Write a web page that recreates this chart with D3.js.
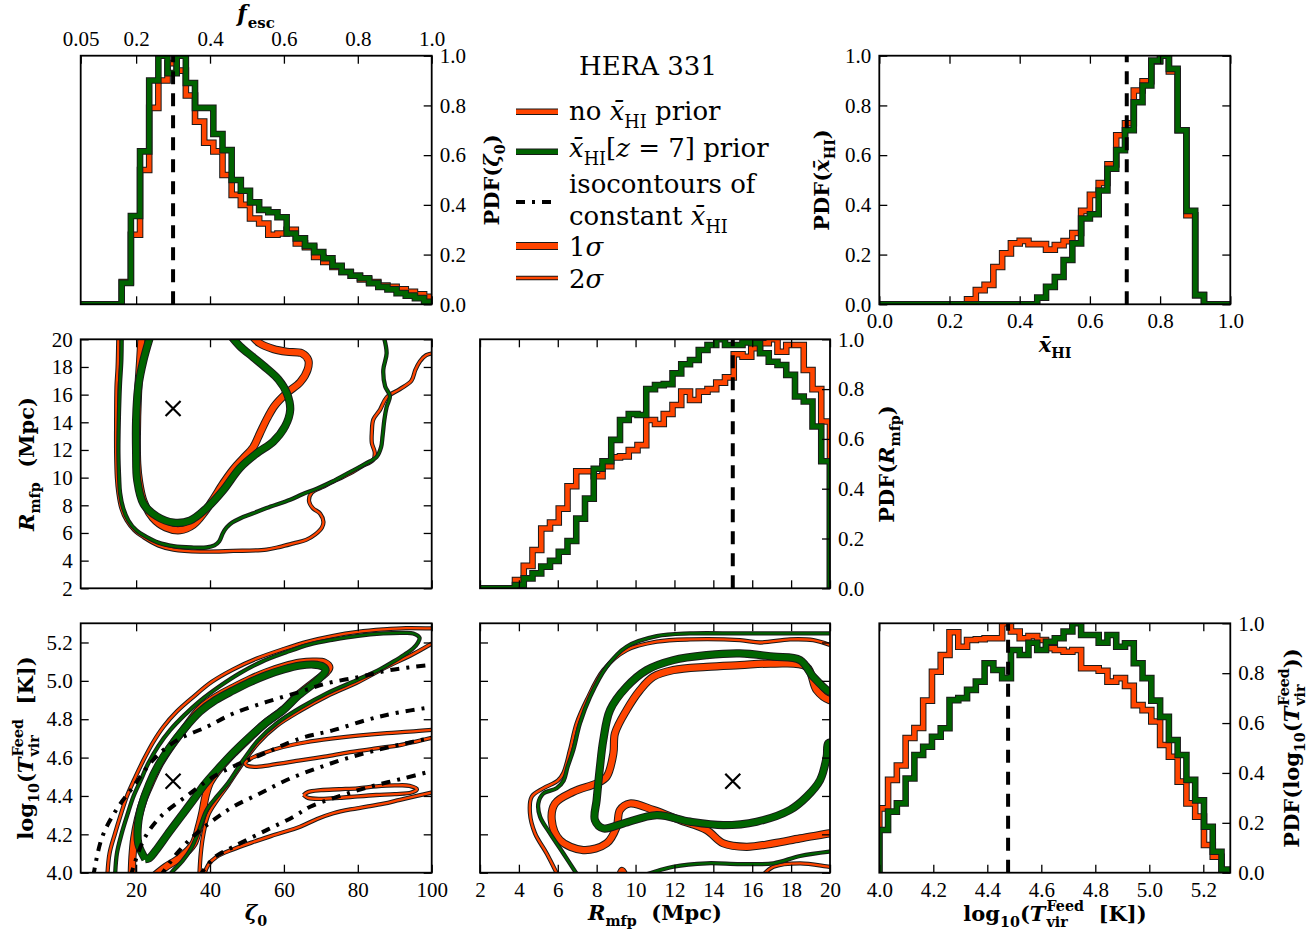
<!DOCTYPE html>
<html>
<head>
<meta charset="utf-8">
<script src="https://cdn.jsdelivr.net/npm/d3@7"></script>
<style>
body { margin: 0; background: #fff; }
</style>
</head>
<body>
<div class="fig"></div>
<script>
// ---------- data ----------
// 1D marginal PDFs, step histograms (bin start, bin width, heights)
var zetaBinStart = 16.1, zetaBinWidth = 2.48;
var zetaPdfNoPrior = [0.09, 0.28, 0.54, 0.79, 0.90, 0.97, 0.94, 0.84, 0.735, 0.65, 0.615, 0.52, 0.44, 0.40, 0.345, 0.325, 0.28, 0.285, 0.30, 0.245, 0.23, 0.19, 0.17, 0.15, 0.13, 0.115, 0.10, 0.09, 0.075, 0.07, 0.06, 0.05, 0.04, 0.03];
var zetaPdfPrior = [0.086, 0.355, 0.615, 0.90, 1.0, 0.93, 1.0, 0.89, 0.79, 0.79, 0.685, 0.62, 0.50, 0.457, 0.41, 0.38, 0.37, 0.35, 0.285, 0.265, 0.235, 0.21, 0.185, 0.155, 0.13, 0.115, 0.105, 0.085, 0.07, 0.06, 0.045, 0.035, 0.025, 0.01];

var xhiBinStart = 0, xhiBinWidth = 0.025;
var xhiPdfNoPrior = [0,0,0,0,0,0,0,0,0,0, 0.02,0.057,0.078,0.15,0.205,0.245,0.255,0.242,0.242,0.22, 0.238,0.254,0.287,0.376,0.44,0.488,0.563,0.68,0.728,0.86, 0.897,0.977,1.0,0.937,0.70,0.358,0.037,0,0,0];
var xhiPdfPrior = [0,0,0,0,0,0,0,0,0,0, 0,0,0,0,0,0,0,0,0.027,0.07, 0.11,0.178,0.245,0.345,0.362,0.458,0.545,0.62,0.70,0.813, 0.88,0.98,1.0,0.947,0.70,0.376,0.037,0,0,0];

var rmfpBinStart = 2, rmfpBinWidth = 0.45;
var rmfpPdfNoPrior = [0,0,0,0,0.033, 0.09,0.154,0.24,0.264,0.32, 0.41,0.47,0.47,0.45,0.49, 0.526,0.53,0.555,0.575,0.676, 0.66,0.70,0.736,0.79,0.756, 0.79,0.80,0.826,0.847,0.94, 0.93,0.964,0.984,1.0,0.95, 0.977,0.977,0.877,0.80,0.67];
var rmfpPdfPrior = [0,0,0,0,0.013, 0.04,0.06,0.087,0.11,0.147, 0.19,0.28,0.36,0.48,0.51, 0.596,0.676,0.70,0.696,0.80, 0.816,0.82,0.863,0.90,0.917, 0.957,0.977,1.0,0.977,0.977, 0.987,0.984,0.944,0.91,0.897, 0.857,0.77,0.75,0.65,0.51];

var tvirBinStart = 4.0, tvirBinWidth = 0.0325;
var tvirPdfNoPrior = [0.258,0.372,0.43,0.54,0.58, 0.69,0.806,0.873,0.964,0.906, 0.933,0.936,0.94,0.94,1.0, 0.967,0.94,0.949,0.933,0.90, 0.893,0.886,0.893,0.82,0.82, 0.81,0.766,0.78,0.749,0.672, 0.652,0.606,0.512,0.465,0.365, 0.278,0.225,0.111,0.064,0];
var tvirPdfPrior = [0.171,0.245,0.278,0.378,0.472, 0.505,0.545,0.579,0.692,0.70, 0.733,0.766,0.84,0.813,0.78, 0.893,0.873,0.922,0.893,0.926, 0.94,0.967,1.0,0.953,0.953, 0.922,0.953,0.906,0.92,0.84, 0.78,0.69,0.625,0.532,0.472, 0.372,0.29,0.184,0.084,0.013];

// fiducial (true) parameter values
var trueZeta = 30, trueRmfp = 15, trueTvir = 4.477, trueXhi = 0.705;

// 2D contours, [x, y] in data units
// zeta vs Rmfp
var zrOrange1s = [[21.5,20.3],[21.1,18.5],[20.5,16],[20.2,13],[20.3,11],[20.8,9.7],[22,8.3],[24.5,7.1],[28,6.4],[31.9,6.2],[35.5,6.6],[38.5,7.5],[41,8.5],[43.6,9.6],[46.3,10.6],[49,11.4],[51.7,12.2],[53.5,13.2],[55.5,14.3],[57.5,15.2],[60.7,16.1],[64.4,16.9],[66.4,17.8],[66.6,18.5],[64.8,19.0],[60.8,19.1],[57.1,19.3],[53.5,19.7],[51.2,20.3]];
var zrPrior1s = [[23.9,20.3],[22,18.5],[20.6,16.6],[20,14.2],[20,11.8],[20.3,9.8],[22,8.1],[25.6,7.2],[30.1,6.75],[34.6,6.9],[39.1,7.8],[43.6,9.1],[48.1,10.7],[52.6,11.75],[57.1,12.6],[60.3,13.7],[61.7,14.9],[60.8,16.1],[58.5,17.1],[55.3,17.9],[51.7,18.7],[48.1,19.5],[45.5,20.3]];
var zrOrange2s = [[15.2,20.3],[15.0,18],[14.7,16.6],[14.6,14],[14.6,11.8],[14.8,10],[15.2,8.9],[16,7.8],[17.45,6.9],[19.5,6.2],[22,5.7],[26,5.1],[30.1,4.8],[37.3,4.65],[46.3,4.7],[55.3,4.8],[59,5.0],[62.6,5.25],[66,5.5],[68.5,5.9],[70.3,6.4],[70.7,6.8],[69.8,7.4],[67.8,7.8],[66.8,8.3],[67.5,8.9],[70.7,9.35],[74,9.8],[77.9,10.3],[81,10.8],[84.2,11.3],[84.6,11.8],[83.8,12.5],[83.8,13.3],[84.2,14.2],[86,14.9],[87.8,15.8],[91.4,16.4],[94.5,17.0],[95.6,17.8],[96.8,18.4],[98.5,18.85],[100.5,19]];
var zrPrior2s = [[16.1,20.3],[16.0,18.5],[15.6,16.6],[15.3,14],[15.2,11.8],[15.4,10],[15.65,8.9],[16.5,7.8],[17.9,6.9],[20,6.2],[22.9,5.7],[26,5.3],[30.1,5.05],[35,4.95],[39,4.95],[41.2,5.1],[42.5,5.4],[43.5,6.0],[44.5,6.4],[46,6.75],[48.1,7.05],[51.5,7.4],[55.3,7.8],[61.7,8.4],[65,8.8],[68.9,9.2],[73,9.7],[77.9,10.4],[82,11.0],[85.1,11.5],[86.3,12.2],[86.7,13.0],[87.2,14.2],[87.8,15.1],[88.7,15.9],[87.4,16.6],[86.9,17.8],[87.8,19.0],[86.9,20.3]];

// zeta vs log10 Tvir
var ztOrange1s = [[18.8,3.98],[19.0,4.08],[19.5,4.18],[20.5,4.28],[22,4.38],[24,4.47],[26.5,4.57],[29.5,4.66],[33,4.75],[37.3,4.855],[41.5,4.915],[46.3,4.965],[51,5.01],[55.3,5.045],[60,5.075],[64.4,5.095],[68,5.1],[71,5.095],[72.3,5.07],[71.5,5.045],[68.9,5.005],[64,4.93],[59.8,4.85],[55,4.78],[50.8,4.705],[46.5,4.625],[42.7,4.545],[40,4.47],[38.8,4.40],[38,4.32],[37,4.24],[35.5,4.15],[32,4.08],[28,4.03],[24.7,3.98]];
var ztPrior1s = [[22.5,4.07],[20.6,4.15],[20.5,4.25],[21.5,4.35],[23.5,4.46],[26,4.56],[29,4.65],[33,4.75],[37.3,4.84],[41.5,4.9],[46.3,4.95],[51,4.995],[55.3,5.03],[60,5.06],[64.4,5.08],[68,5.085],[70.5,5.075],[71.3,5.055],[68.9,5.0],[64,4.925],[59.8,4.848],[55,4.78],[50.8,4.709],[46.5,4.63],[42.7,4.552],[38.5,4.46],[35.5,4.38],[32,4.29],[28.5,4.2],[25.5,4.12],[23.5,4.075],[22.5,4.07]];
var ztOrange2sOuter = [[12.2,3.98],[12.8,4.1],[14.3,4.205],[15.8,4.30],[17.45,4.396],[19.6,4.49],[22,4.587],[24.6,4.68],[27.4,4.761],[31,4.84],[35.5,4.917],[40.5,4.995],[46.3,5.06],[52.5,5.115],[59.8,5.165],[66.5,5.205],[73.4,5.235],[80,5.255],[86.9,5.268],[93,5.275],[100.5,5.273]];
var ztOrange2sInner = [[100.5,5.2],[95,5.14],[87,5.065],[79.7,4.99],[71.6,4.92],[64.5,4.845],[58,4.765],[53,4.675],[49,4.575],[45,4.46],[42,4.38],[39.5,4.30],[38.2,4.2],[37.5,4.1],[37.1,3.98]];
var ztOrange2sTongue = [[100.5,4.745],[94,4.735],[87.9,4.728],[80,4.715],[73.3,4.70],[66,4.68],[59.7,4.655],[54,4.62],[51,4.595],[49.5,4.572],[50,4.558],[52,4.552],[56,4.56],[64.4,4.585],[71,4.605],[77.9,4.628],[85,4.648],[91.4,4.665],[96,4.685],[100.5,4.705]];
var ztOrange2sLower = [[38.3,3.98],[39.5,4.04],[41.8,4.083],[46,4.12],[51.7,4.16],[58,4.20],[64.4,4.24],[69,4.28],[73.4,4.31],[78,4.33],[82.4,4.344],[87,4.36],[91.4,4.38],[96,4.40],[100.5,4.42]];
var ztOrange2sIsland = [[65.3,4.405],[66.5,4.42],[70,4.43],[75,4.435],[80,4.44],[85,4.45],[90,4.455],[94,4.453],[96,4.435],[94.5,4.418],[90,4.41],[85,4.405],[80,4.398],[75,4.39],[70,4.385],[66.5,4.39],[65.3,4.405]];
var ztPrior2s = [[14.3,3.98],[14.8,4.1],[16.1,4.205],[17.6,4.30],[19.25,4.396],[21.2,4.48],[23.3,4.57],[26,4.66],[29.2,4.743],[33,4.82],[37.3,4.895],[42.5,4.97],[48.1,5.04],[54,5.1],[60.75,5.15],[67,5.19],[73.4,5.215],[80,5.235],[86.9,5.247],[92,5.25],[95,5.247],[96.7,5.225],[96.3,5.2],[95,5.17],[92.5,5.135],[89.6,5.10],[86,5.06],[79.7,5.004],[71.6,4.935],[64.5,4.86],[58,4.778],[53,4.69],[49,4.587],[45,4.47],[42,4.40],[39.1,4.327],[37,4.22],[35,4.13],[32.5,4.06],[30,4.01],[28.7,3.98]];
// isocontours of constant mean neutral fraction
var isoXhi = [
  [[8.4,3.98],[10.7,4.18],[14.7,4.33],[19.3,4.45],[24.7,4.59],[31,4.69],[39.1,4.76],[46.3,4.83],[55.3,4.89],[64.4,4.943],[71.6,4.987],[80.6,5.021],[88.7,5.056],[100.5,5.085]],
  [[18.5,3.98],[22,4.17],[26.5,4.29],[33.7,4.40],[40.9,4.5],[48.1,4.57],[52.6,4.604],[64.4,4.70],[73.4,4.743],[82.4,4.796],[89.6,4.83],[100.5,4.865]],
  [[26.5,3.98],[31,4.1],[35.5,4.19],[40.9,4.274],[46.3,4.344],[53.5,4.413],[60.75,4.483],[68.9,4.544],[77,4.596],[86,4.643],[95,4.683],[100.5,4.705]],
  [[37.1,3.98],[40.9,4.075],[46.3,4.135],[55.3,4.222],[62.6,4.292],[67.1,4.344],[75.2,4.40],[83.3,4.448],[92,4.49],[100.5,4.532]]
];

// Rmfp vs log10 Tvir
var rtOrange1s = [[20.2,4.90],[19.97,4.90],[19.31,4.952],[18.8,5.073],[17.09,5.09],[15.37,5.082],[13.66,5.073],[11.94,5.056],[10.91,5.021],[10.23,4.952],[9.54,4.848],[8.94,4.726],[8.86,4.622],[8.51,4.50],[8.0,4.466],[6.8,4.422],[5.86,4.361],[5.69,4.274],[6.11,4.17],[7.31,4.118],[8.51,4.153],[9.03,4.24],[9.2,4.327],[9.71,4.361],[10.91,4.327],[12.29,4.274],[13.66,4.222],[14.51,4.153],[15.71,4.135],[17.09,4.153],[18.46,4.179],[19.97,4.205],[20.2,4.21]];
var rtOrange1sBit = [[9.2,3.98],[9.3,4.01],[9.46,3.98]];
var rtPrior1s = [[20.2,4.94],[19.97,4.943],[19.14,5.021],[18.46,5.108],[17.09,5.126],[15.37,5.143],[13.66,5.134],[11.94,5.108],[10.57,5.056],[9.54,4.969],[8.69,4.848],[8.34,4.691],[8.17,4.552],[8.0,4.379],[7.91,4.274],[8.34,4.231],[9.37,4.257],[11.09,4.30],[12.8,4.266],[14.51,4.248],[16.23,4.266],[17.94,4.327],[18.8,4.396],[19.49,4.483],[19.83,4.604],[19.91,4.674],[20.2,4.68]];
var rtOrange2s = [[6.03,3.98],[5.43,4.10],[4.83,4.205],[4.57,4.309],[4.66,4.396],[5.26,4.44],[6.0,4.48],[6.29,4.52],[6.63,4.64],[6.97,4.778],[7.49,4.90],[8.34,5.056],[9.54,5.16],[11.09,5.204],[12.8,5.216],[15.37,5.212],[16.4,5.2],[17.94,5.216],[19.14,5.212],[20.2,5.18]];
var rtOrange2sLow = [[16.49,3.98],[17.09,4.031],[18.46,4.049],[19.97,4.031],[20.2,4.03]];
var rtPrior2s = [[7.06,3.98],[6.29,4.10],[5.6,4.205],[5.09,4.292],[5.0,4.361],[5.26,4.413],[5.94,4.44],[6.3,4.48],[6.5,4.55],[6.8,4.64],[7.14,4.778],[7.66,4.917],[8.51,5.073],[9.54,5.178],[11.09,5.233],[12.8,5.247],[15.37,5.247],[17.94,5.247],[20.2,5.247]];
var rtPrior2sLow = [[10.23,3.98],[11.94,4.031],[13.66,4.049],[15.37,4.045],[17.09,4.049],[18.46,4.087],[19.97,4.11],[20.2,4.112]];

// ticks
var zetaTicks = [20, 40, 60, 80, 100];
var zetaTickLabels = ["20", "40", "60", "80", "100"];
var fescTicks = [5, 20, 40, 60, 80, 100];
var fescTickLabels = ["0.05", "0.2", "0.4", "0.6", "0.8", "1.0"];
var pdfTicks = [0, 0.2, 0.4, 0.6, 0.8, 1.0];
var pdfTickLabels = ["0.0", "0.2", "0.4", "0.6", "0.8", "1.0"];
var rmfpTicks = [2, 4, 6, 8, 10, 12, 14, 16, 18, 20];
var rmfpTickLabels = ["2", "4", "6", "8", "10", "12", "14", "16", "18", "20"];
var tvirTicks = [4.0, 4.2, 4.4, 4.6, 4.8, 5.0, 5.2];
var tvirTickLabels = ["4.0", "4.2", "4.4", "4.6", "4.8", "5.0", "5.2"];

// ---------- layout ----------
var width = 1315, height = 935;
var TICKFONT = '"Liberation Serif", "DejaVu Serif", serif';
var TEXTFONT = '"DejaVu Serif", "Liberation Serif", serif';
var ORANGE = "#ff4500", GREEN = "#006400", EDGE = "#1a1a1a";
var colX = [[80.7, 431.7], [480, 830], [879.3, 1230.3]];
var rowY = [[55.7, 304.3], [339.3, 588.3], [623.3, 872.7]];

var svg = d3.select(".fig").append("svg")
    .attr("width", width)
    .attr("height", height)
    .style("background", "#fff");
var defs = svg.append("defs");

function panel(col, row, xdom, ydom, name) {
  var x = d3.scaleLinear().domain(xdom).range(colX[col]);
  var y = d3.scaleLinear().domain(ydom).range([rowY[row][1], rowY[row][0]]);
  defs.append("clipPath").attr("id", "clip-" + name)
    .append("rect")
      .attr("x", colX[col][0]).attr("y", rowY[row][0])
      .attr("width", colX[col][1] - colX[col][0])
      .attr("height", rowY[row][1] - rowY[row][0]);
  var plot = svg.append("g").attr("clip-path", "url(#clip-" + name + ")");
  return { x: x, y: y, plot: plot, col: col, row: row };
}

function frame(p) {
  svg.append("rect")
    .attr("x", colX[p.col][0]).attr("y", rowY[p.row][0])
    .attr("width", colX[p.col][1] - colX[p.col][0])
    .attr("height", rowY[p.row][1] - rowY[p.row][0])
    .attr("fill", "none").attr("stroke", "#000").attr("stroke-width", 1.8);
}

function drawAxis(p, side, values, labels) {
  var horiz = side == "top" || side == "bottom";
  var make = { top: d3.axisTop, bottom: d3.axisBottom, left: d3.axisLeft, right: d3.axisRight }[side];
  var ax = make(horiz ? p.x : p.y)
    .tickValues(values)
    .tickSizeInner(-8).tickSizeOuter(0)
    .tickPadding(side == "top" ? 10 : side == "bottom" ? 9 : 8)
    .tickFormat(function (d, i) { return labels ? labels[i] : ""; });
  var pos = side == "top" ? [0, rowY[p.row][0]]
          : side == "bottom" ? [0, rowY[p.row][1]]
          : side == "left" ? [colX[p.col][0], 0] : [colX[p.col][1], 0];
  var g = svg.append("g").attr("transform", "translate(" + pos + ")").call(ax);
  g.attr("font-family", TICKFONT).attr("font-size", 21);
  g.select(".domain").remove();
  g.selectAll(".tick line").attr("stroke", "#000").attr("stroke-width", 1.3);
  g.selectAll(".tick text").attr("fill", "#000");
}

function outlined(g, d, color, w, join) {
  g.append("path").attr("d", d).attr("fill", "none")
    .attr("stroke", EDGE).attr("stroke-width", w + 2)
    .attr("stroke-linejoin", join).attr("stroke-linecap", "butt");
  g.append("path").attr("d", d).attr("fill", "none")
    .attr("stroke", color).attr("stroke-width", w)
    .attr("stroke-linejoin", join).attr("stroke-linecap", "butt");
}

function histogram(p, start, binw, vals, color) {
  var dom = p.x.domain();
  var pts = [[dom[0], 0]];
  vals.forEach(function (v, i) { pts.push([start + i * binw, v]); });
  pts.push([start + vals.length * binw, 0]);
  pts.push([dom[1], 0]);
  var line = d3.line().x(function (d) { return p.x(d[0]); })
    .y(function (d) { return p.y(d[1]); }).curve(d3.curveStepAfter);
  outlined(p.plot, line(pts), color, 4.6, "miter");
}

function contour(p, pts, color, w) {
  var line = d3.line().x(function (d) { return p.x(d[0]); })
    .y(function (d) { return p.y(d[1]); }).curve(d3.curveCatmullRom.alpha(0.5));
  outlined(p.plot, line(pts), color, w, "round");
}

function truthLine(p, xv) {
  var yd = p.y.domain();
  p.plot.append("line")
    .attr("x1", p.x(xv)).attr("x2", p.x(xv))
    .attr("y1", p.y(yd[0])).attr("y2", p.y(yd[1]))
    .attr("stroke", "#000").attr("stroke-width", 4)
    .attr("stroke-dasharray", "13,9");
}

function cross(p, xv, yv) {
  var cx = p.x(xv), cy = p.y(yv), s = 7.5;
  p.plot.append("path")
    .attr("d", "M" + (cx - s) + "," + (cy - s) + "L" + (cx + s) + "," + (cy + s) +
               "M" + (cx - s) + "," + (cy + s) + "L" + (cx + s) + "," + (cy - s))
    .attr("stroke", "#000").attr("stroke-width", 2.2);
}

// rich text: parts laid out along x, measured in the browser
function mathText(parts, size, bold) {
  var g = svg.append("g");
  var xpos = 0, lastStart = 0;
  parts.forEach(function (p) {
    var fs = p.k ? size * 0.68 : size;
    var dy = p.k == "sub" ? size * 0.3 : p.k == "sup" ? -size * 0.5 : 0;
    var start = p.stack ? lastStart : xpos;
    var t = g.append("text")
      .attr("x", start + (p.dx || 0)).attr("y", dy)
      .attr("font-family", TEXTFONT).attr("font-size", fs)
      .attr("font-weight", bold ? "bold" : "normal")
      .attr("font-style", p.i ? "italic" : "normal")
      .attr("fill", "#000")
      .style("white-space", "pre")
      .text(p.t);
    var w = t.node().getComputedTextLength() + (p.dx || 0);
    lastStart = start;
    xpos = Math.max(xpos, start + w);
  });
  return { g: g, w: xpos };
}
function placeH(m, cx, base, anchor) {
  var x0 = anchor == "start" ? cx : cx - m.w / 2;
  m.g.attr("transform", "translate(" + x0 + "," + base + ")");
}
function placeV(m, xb, cy) {
  m.g.attr("transform", "translate(" + xb + "," + cy + ") rotate(-90) translate(" + (-m.w / 2) + ",0)");
}

// ---------- panels ----------
var pZeta = panel(0, 0, [5, 100], [0, 1], "zeta");
var pXhi = panel(2, 0, [0, 1], [0, 1], "xhi");
var pZR = panel(0, 1, [5, 100], [2, 20], "zr");
var pRmfp = panel(1, 1, [2, 20], [0, 1], "rmfp");
var pZT = panel(0, 2, [5, 100], [4.0, 5.3], "zt");
var pRT = panel(1, 2, [2, 20], [4.0, 5.3], "rt");
var pTvir = panel(2, 2, [4.0, 5.3], [0, 1], "tvir");

// 1D marginals
histogram(pZeta, zetaBinStart, zetaBinWidth, zetaPdfNoPrior, ORANGE);
histogram(pZeta, zetaBinStart, zetaBinWidth, zetaPdfPrior, GREEN);
truthLine(pZeta, trueZeta);

histogram(pXhi, xhiBinStart, xhiBinWidth, xhiPdfNoPrior, ORANGE);
histogram(pXhi, xhiBinStart, xhiBinWidth, xhiPdfPrior, GREEN);
truthLine(pXhi, trueXhi);

histogram(pRmfp, rmfpBinStart, rmfpBinWidth, rmfpPdfNoPrior, ORANGE);
histogram(pRmfp, rmfpBinStart, rmfpBinWidth, rmfpPdfPrior, GREEN);
truthLine(pRmfp, trueRmfp);

histogram(pTvir, tvirBinStart, tvirBinWidth, tvirPdfNoPrior, ORANGE);
histogram(pTvir, tvirBinStart, tvirBinWidth, tvirPdfPrior, GREEN);
truthLine(pTvir, trueTvir);

// 2D contours
var W1 = 6.2, W2 = 2.3;
contour(pZR, zrOrange2s, ORANGE, W2);
contour(pZR, zrOrange1s, ORANGE, W1);
contour(pZR, zrPrior2s, GREEN, W2);
contour(pZR, zrPrior1s, GREEN, W1);
cross(pZR, trueZeta, trueRmfp);

contour(pZT, ztOrange2sOuter, ORANGE, W2);
contour(pZT, ztOrange2sInner, ORANGE, W2);
contour(pZT, ztOrange2sTongue, ORANGE, W2);
contour(pZT, ztOrange2sLower, ORANGE, W2);
contour(pZT, ztOrange2sIsland, ORANGE, W2);
contour(pZT, ztOrange1s, ORANGE, W1);
contour(pZT, ztPrior2s, GREEN, W2);
contour(pZT, ztPrior1s, GREEN, W1);
isoXhi.forEach(function (c) {
  pZT.plot.append("path")
    .attr("d", d3.line().x(function (d) { return pZT.x(d[0]); })
      .y(function (d) { return pZT.y(d[1]); }).curve(d3.curveCatmullRom.alpha(0.5))(c))
    .attr("fill", "none").attr("stroke", "#000").attr("stroke-width", 4)
    .attr("stroke-dasharray", "9,7,3,7");
});
cross(pZT, trueZeta, trueTvir);

contour(pRT, rtOrange2s, ORANGE, W2);
contour(pRT, rtOrange2sLow, ORANGE, W2);
contour(pRT, rtOrange1s, ORANGE, W1);
contour(pRT, rtOrange1sBit, ORANGE, W1);
contour(pRT, rtPrior2s, GREEN, W2);
contour(pRT, rtPrior2sLow, GREEN, W2);
contour(pRT, rtPrior1s, GREEN, W1);
cross(pRT, trueRmfp, trueTvir);

// ---------- axes ----------
// top-left: PDF(zeta), f_esc on top, PDF on right
drawAxis(pZeta, "top", fescTicks, fescTickLabels);
drawAxis(pZeta, "bottom", zetaTicks, null);
drawAxis(pZeta, "right", pdfTicks, pdfTickLabels);
// top-right: PDF(xHI)
drawAxis(pXhi, "bottom", pdfTicks, pdfTickLabels);
drawAxis(pXhi, "top", pdfTicks, null);
drawAxis(pXhi, "left", pdfTicks, pdfTickLabels);
drawAxis(pXhi, "right", pdfTicks, null);
// middle-left
drawAxis(pZR, "left", rmfpTicks, rmfpTickLabels);
drawAxis(pZR, "right", rmfpTicks, null);
drawAxis(pZR, "top", zetaTicks, null);
drawAxis(pZR, "bottom", zetaTicks, null);
// middle-middle
drawAxis(pRmfp, "top", rmfpTicks, null);
drawAxis(pRmfp, "bottom", rmfpTicks, null);
drawAxis(pRmfp, "right", pdfTicks, pdfTickLabels);
// bottom-left
drawAxis(pZT, "left", tvirTicks, tvirTickLabels);
drawAxis(pZT, "right", tvirTicks, null);
drawAxis(pZT, "top", zetaTicks, null);
drawAxis(pZT, "bottom", zetaTicks, zetaTickLabels);
// bottom-middle
drawAxis(pRT, "left", tvirTicks, null);
drawAxis(pRT, "right", tvirTicks, null);
drawAxis(pRT, "top", rmfpTicks, null);
drawAxis(pRT, "bottom", rmfpTicks, rmfpTickLabels);
// bottom-right
drawAxis(pTvir, "top", tvirTicks, null);
drawAxis(pTvir, "bottom", tvirTicks, tvirTickLabels);
drawAxis(pTvir, "right", pdfTicks, pdfTickLabels);

[pZeta, pXhi, pZR, pRmfp, pZT, pRT, pTvir].forEach(frame);

// ---------- axis labels ----------
var XBAR = "x\u0304";
var LS = 21;
placeH(mathText([{ t: "f", i: true }, { t: "esc", k: "sub", dx: 1 }], 22, true), 256, 21);
placeV(mathText([{ t: "PDF(" }, { t: "\u03b6", i: true }, { t: "0", k: "sub" }, { t: ")" }], LS, true), 499, 180);
placeV(mathText([{ t: "PDF(" }, { t: XBAR, i: true }, { t: "HI", k: "sub" }, { t: ")" }], LS, true), 829, 180);
placeH(mathText([{ t: XBAR, i: true }, { t: "HI", k: "sub" }], LS, true), 1055, 352);
placeV(mathText([{ t: "R", i: true }, { t: "mfp", k: "sub" }, { t: "  (Mpc)" }], LS, true), 34, 464);
placeV(mathText([{ t: "PDF(" }, { t: "R", i: true }, { t: "mfp", k: "sub" }, { t: ")" }], LS, true), 894, 464);
placeV(mathText([{ t: "log" }, { t: "10", k: "sub" }, { t: "(" }, { t: "T", i: true },
                 { t: "Feed", k: "sup", dx: 1 }, { t: "vir", k: "sub", stack: true, dx: 1 }, { t: "  [K])" }], LS, true), 33, 748);
placeH(mathText([{ t: "\u03b6", i: true }, { t: "0", k: "sub" }], LS, true), 256, 920);
placeH(mathText([{ t: "R", i: true }, { t: "mfp", k: "sub" }, { t: "  (Mpc)" }], LS, true), 655, 920);
placeH(mathText([{ t: "log" }, { t: "10", k: "sub" }, { t: "(" }, { t: "T", i: true },
                 { t: "Feed", k: "sup", dx: 1 }, { t: "vir", k: "sub", stack: true, dx: 1 }, { t: "  [K])" }], LS, true), 1055, 921);
placeV(mathText([{ t: "PDF(log" }, { t: "10", k: "sub" }, { t: "(" }, { t: "T", i: true },
                 { t: "Feed", k: "sup", dx: 1 }, { t: "vir", k: "sub", stack: true, dx: 1 }, { t: "))" }], LS, true), 1299, 748);

// ---------- legend ----------
var legX0 = 516, legX1 = 558, legText = 569, LF = 26;
placeH(mathText([{ t: "HERA 331" }], LF, false), 648, 75);
function legLine(y, color, w) {
  outlined(svg, "M" + legX0 + "," + y + "L" + legX1 + "," + y, color, w, "miter");
}
legLine(111.7, ORANGE, 4.6);
placeH(mathText([{ t: "no " }, { t: XBAR, i: true }, { t: "HI", k: "sub" }, { t: " prior" }], LF, false), legText, 120, "start");
legLine(151.7, GREEN, 4.6);
placeH(mathText([{ t: XBAR, i: true }, { t: "HI", k: "sub" }, { t: "[" }, { t: "z", i: true }, { t: " = 7] prior" }], LF, false), legText, 157, "start");
svg.append("path").attr("d", "M" + legX0 + ",202L" + legX1 + ",202")
  .attr("stroke", "#000").attr("stroke-width", 4).attr("stroke-dasharray", "9,7,3,7");
placeH(mathText([{ t: "isocontours of" }], LF, false), legText, 193, "start");
placeH(mathText([{ t: "constant " }, { t: XBAR, i: true }, { t: "HI", k: "sub" }], LF, false), legText, 225, "start");
legLine(246, ORANGE, W1);
placeH(mathText([{ t: "1" }, { t: "\u03c3", i: true }], LF, false), legText, 256, "start");
legLine(278, ORANGE, W2);
placeH(mathText([{ t: "2" }, { t: "\u03c3", i: true }], LF, false), legText, 288, "start");
</script>
</body>
</html>
